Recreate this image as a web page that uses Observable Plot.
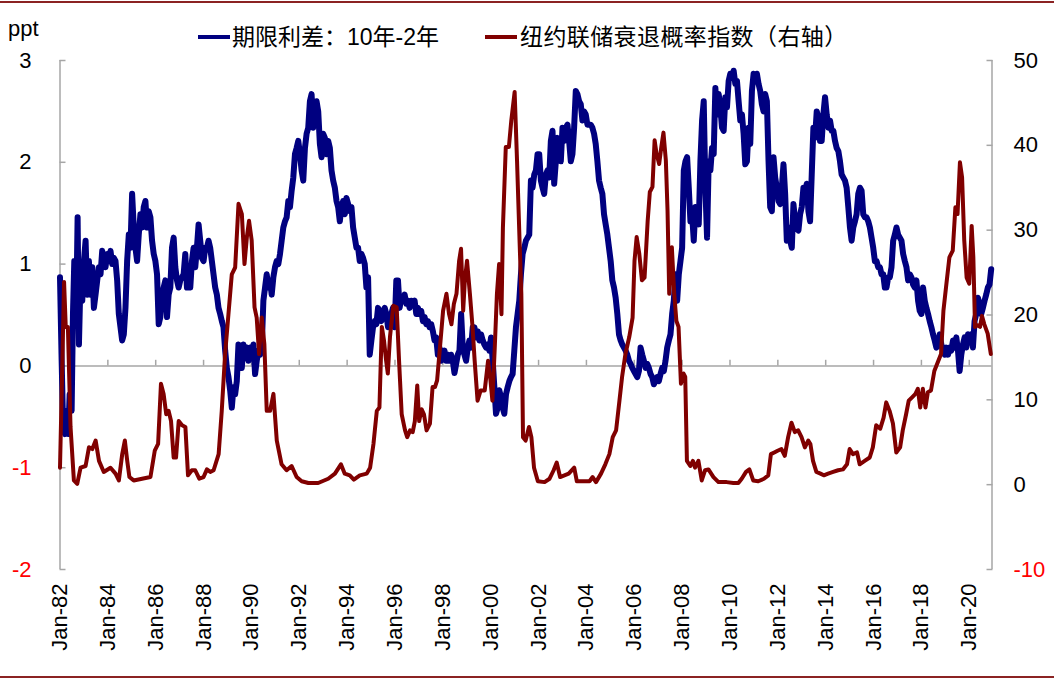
<!DOCTYPE html>
<html><head><meta charset="utf-8">
<script src="https://cdn.jsdelivr.net/npm/d3@7"></script>
<script src="https://cdn.jsdelivr.net/npm/@observablehq/plot@0.6"></script>
<style>
html,body{margin:0;padding:0;background:#fff;overflow:hidden}
#wrap{position:relative;width:1054px;height:682px;font-family:"Liberation Sans",Arial,"Noto Sans CJK SC",sans-serif;color:#000}
#chart{position:absolute;left:0;top:0}
.rule{position:absolute;left:0;width:1054px;height:2px;background:#8b2323}
.lg-line{position:absolute;width:32px;height:4px;top:35px}
.lg-text{position:absolute;top:25.5px;font-size:23px;line-height:23px;white-space:nowrap}
#ppt{position:absolute;left:8px;top:17.5px;font-size:22px;line-height:22px}
</style></head>
<body><div id="wrap">
<div id="chart"></div>
<div class="rule" style="top:1px"></div>
<div class="rule" style="top:676px"></div>
<div id="ppt">ppt</div>
<div class="lg-line" style="left:198px;background:#000080"></div>
<div class="lg-text" style="left:232px">期限利差：10年-2年</div>
<div class="lg-line" style="left:485px;background:#800000"></div>
<div class="lg-text" style="left:520px;letter-spacing:0.4px">纽约联储衰退概率指数（右轴）</div>
</div>
<script>
// ---- axes / ticks ----
const xTicks = d3.range(1982, 2021, 2);
const leftTicks = [-2, -1, 0, 1, 2, 3];
const rightTicks = [-10, 0, 10, 20, 30, 40, 50];
const xDomain = [1982, 2020.95];
const leftDomain = [-2, 3];
const rightDomain = [-10, 50];

// ---- 10y-2y term spread (ppt) ----
const spreadEarly = [[1982.000,0.87],[1982.069,0.05],[1982.125,-0.54],[1982.208,-0.67],[1982.278,-0.44],[1982.347,-0.67],[1982.403,-0.28],[1982.486,-0.44],[1982.542,0.51],[1982.597,1.03],[1982.681,0.57],[1982.736,1.46],[1982.792,0.21]];
const spreadGridStart = 1982.861;   // regular sampling grid (years)
const spreadGridStep = 5 / 72;
const spread1983_1994 = [
0.90,0.64,1.03,1.23,0.70,1.03,0.70,0.97,0.57,0.70,
0.84,0.97,0.90,1.13,1.03,0.97,1.10,1.03,1.13,1.00,
1.06,1.03,0.84,0.51,0.38,0.25,0.31,0.57,1.03,1.29,
1.16,1.69,1.36,1.16,1.03,1.29,1.49,1.36,1.56,1.62,
1.36,1.52,1.46,1.23,1.10,1.03,0.90,0.41,0.48,0.70,
0.77,0.84,0.48,0.70,0.77,1.16,1.26,0.97,0.84,0.77,
0.84,0.87,0.90,1.10,0.77,0.87,0.77,1.03,1.16,0.97,
1.16,1.39,1.23,1.06,1.03,1.16,1.16,1.23,1.16,1.03,
0.90,0.77,0.70,0.57,0.51,0.44,0.38,0.15,-0.02,-0.11,
-0.24,-0.41,-0.21,-0.28,-0.15,0.21,0.11,-0.02,0.21,0.08,
0.18,0.05,0.18,0.11,0.21,-0.08,0.05,0.15,0.11,0.18,
0.64,0.77,0.90,0.77,0.84,0.70,0.87,0.97,1.03,1.00,
1.10,1.23,1.36,1.42,1.46,1.62,1.56,1.72,1.85,2.08,
2.14,2.21,2.08,1.92,1.82,2.14,2.28,2.34,2.60,2.67,
2.34,2.54,2.60,2.50,2.18,2.05,2.28,2.24,2.08,2.21,
2.14,1.92,1.82,1.75,1.62,1.56,1.42,1.56,1.62,1.49,
1.65,1.59,1.52,1.56,1.36,1.26,1.16,1.16,1.03,1.10,
1.06,1.00,0.77];
const spread1994_2007 = [
0.87,0.11,0.25,0.38,0.44,0.41,0.57,0.51,0.44,0.54,
0.57,0.51,0.38,0.41,0.51,0.57,0.38,0.84,0.84,0.57,
0.67,0.64,0.70,0.61,0.64,0.57,0.64,0.61,0.64,0.51,
0.57,0.51,0.54,0.44,0.48,0.41,0.44,0.38,0.41,0.34,
0.25,0.28,0.11,0.18,0.05,0.08,0.15,0.05,0.11,0.05,
0.11,0.05,-0.07,0.02,0.11,0.15,0.51,0.18,0.11,0.05,
0.18,0.25,0.18,0.38,0.38,0.28,0.34,0.25,0.31,0.25,
0.21,0.18,0.21,0.15,0.28,0.05,-0.21,-0.47,-0.41,-0.24,
-0.31,-0.41,-0.47,-0.28,-0.21,-0.15,-0.11,-0.08,0.15,0.38,
0.51,0.64,0.90,1.10,1.16,1.23,1.26,1.29,1.82,1.75,
1.88,1.92,2.08,2.08,1.82,1.75,1.69,1.88,1.92,1.85,
2.21,2.31,1.79,2.01,2.24,2.21,2.01,2.34,2.21,2.34,
2.37,2.21,2.01,2.08,2.34,2.70,2.67,2.60,2.57,2.41,
2.50,2.47,2.37,2.37,2.37,2.34,2.28,2.18,2.01,1.82,
1.75,1.69,1.49,1.39,1.29,1.16,1.03,0.84,0.77,0.67,
0.51,0.31,0.25,0.21,0.18,0.15,0.11,0.05,0.02,-0.02,
-0.05,-0.08,-0.11,-0.05,0.18,0.11,0.05,-0.02,0.02,-0.02,
-0.08,-0.11,-0.18,-0.15,-0.11,-0.15,-0.08,-0.02,-0.05,0.05,
0.18,0.25,0.31,0.51,0.64,0.90];
const spread2007_2020 = [
0.64,0.90,1.03,1.16,1.92,2.01,2.05,1.75,1.42,1.49,
1.23,1.56,1.52,1.39,2.01,2.41,2.60,1.75,1.26,2.01,
1.92,2.14,2.08,2.73,2.47,2.67,2.54,2.34,2.31,2.64,
2.54,2.80,2.87,2.83,2.90,2.77,2.80,2.60,2.41,2.47,
2.28,1.98,2.01,2.34,2.18,2.70,2.87,2.80,2.87,2.77,
2.70,2.57,2.50,2.67,2.60,2.01,1.56,1.52,2.05,1.85,
1.75,1.62,1.59,1.75,1.98,1.69,1.23,1.36,1.23,1.16,
1.59,1.42,1.36,1.33,1.49,1.56,1.75,1.69,1.79,1.52,
1.42,1.88,2.34,2.24,2.50,2.44,2.21,2.21,2.47,2.64,
2.47,2.34,2.41,2.31,2.31,2.21,2.14,2.11,2.01,1.88,
1.85,1.82,1.75,1.56,1.36,1.23,1.36,1.42,1.49,1.69,
1.75,1.72,1.49,1.46,1.46,1.42,1.36,1.26,1.16,1.03,
1.03,0.97,0.97,0.90,0.90,0.77,0.77,0.87,0.87,0.97,
1.23,1.29,1.36,1.29,1.26,1.23,1.10,1.03,0.97,0.84,
0.90,0.87,0.80,0.77,0.84,0.64,0.54,0.51,0.77,0.64,
0.57,0.51,0.44,0.38,0.31,0.25,0.18,0.21,0.31,0.21,
0.15,0.11,0.18,0.11,0.18,0.15,0.25,0.18,0.28,0.15,
-0.05,0.11,0.21,0.28,0.18,0.31,0.25,0.31,0.18,0.44,
0.51,0.67,0.61,0.51,0.57,0.64,0.70,0.77,0.80,0.95];

// ---- NY Fed recession probability (%, right axis) ----
const recession1982_1994 = [[1982.00,2.0],[1982.10,14.6],[1982.17,23.9],[1982.24,18.6],[1982.33,18.6],[1982.44,6.8],[1982.58,0.5],[1982.72,0.1],[1982.86,2.0],[1983.07,2.2],[1983.21,4.4],[1983.35,4.2],[1983.49,5.2],[1983.63,2.8],[1983.83,1.5],[1984.11,2.0],[1984.32,1.3],[1984.46,0.5],[1984.60,3.6],[1984.71,5.2],[1984.81,2.8],[1984.90,0.9],[1985.08,0.5],[1985.43,0.7],[1985.78,0.9],[1985.96,4.0],[1986.10,4.8],[1986.22,11.9],[1986.33,10.7],[1986.44,8.3],[1986.54,8.7],[1986.64,7.5],[1986.75,3.2],[1986.85,3.2],[1986.96,7.5],[1987.10,7.0],[1987.24,6.8],[1987.35,1.1],[1987.51,1.7],[1987.65,1.7],[1987.82,0.7],[1988.00,0.9],[1988.14,1.8],[1988.28,1.5],[1988.42,1.7],[1988.63,3.6],[1988.76,8.7],[1988.90,15.4],[1989.04,20.1],[1989.18,24.8],[1989.32,25.6],[1989.46,33.1],[1989.60,31.9],[1989.71,26.0],[1989.81,29.2],[1989.90,31.1],[1990.01,28.8],[1990.13,20.9],[1990.22,19.7],[1990.32,15.4],[1990.43,19.7],[1990.54,16.6],[1990.64,8.7],[1990.78,8.7],[1990.92,10.7],[1991.06,5.2],[1991.26,2.4],[1991.47,1.7],[1991.68,2.2],[1991.89,0.9],[1992.10,0.4],[1992.38,0.2],[1992.79,0.2],[1993.21,0.7],[1993.49,1.3],[1993.74,2.4],[1993.90,1.3],[1994.11,1.1],[1994.28,0.6],[1994.53,1.1]];
const recession1994_2007 = [[1994.82,1.3],[1994.96,2.0],[1995.10,4.8],[1995.24,8.7],[1995.35,9.1],[1995.45,18.6],[1995.54,17.0],[1995.63,14.6],[1995.70,13.1],[1995.79,17.4],[1995.93,21.1],[1996.07,20.9],[1996.17,14.6],[1996.28,8.3],[1996.42,6.4],[1996.51,5.6],[1996.63,6.4],[1996.74,6.2],[1996.83,7.5],[1996.93,11.7],[1997.01,7.5],[1997.11,8.9],[1997.21,8.3],[1997.32,6.4],[1997.46,7.2],[1997.57,11.5],[1997.67,11.5],[1997.76,12.3],[1997.88,16.2],[1998.01,20.5],[1998.15,22.5],[1998.26,20.1],[1998.36,18.9],[1998.46,21.3],[1998.57,22.5],[1998.68,26.4],[1998.76,27.8],[1998.85,20.5],[1998.92,24.1],[1999.01,26.4],[1999.13,22.5],[1999.24,18.6],[1999.33,14.6],[1999.45,9.9],[1999.58,11.1],[1999.75,11.1],[1999.89,14.6],[1999.99,12.3],[2000.07,9.9],[2000.17,16.2],[2000.26,22.5],[2000.35,26.0],[2000.45,20.1],[2000.51,30.3],[2000.63,39.8],[2000.76,39.8],[2000.86,42.9],[2001.00,46.3],[2001.10,38.2],[2001.21,28.4],[2001.28,22.5],[2001.35,5.6],[2001.46,5.2],[2001.60,6.8],[2001.70,5.6],[2001.81,2.0],[2001.97,0.4],[2002.25,0.3],[2002.46,0.7],[2002.63,1.7],[2002.76,2.6],[2002.90,0.9],[2003.08,1.1],[2003.26,1.3],[2003.49,2.0],[2003.60,0.4],[2003.85,0.4],[2004.13,0.4],[2004.26,0.9],[2004.40,0.3],[2004.61,1.3],[2004.79,2.4],[2004.96,3.6],[2005.10,5.6],[2005.24,6.4],[2005.38,9.9],[2005.49,12.7],[2005.63,15.4],[2005.79,17.4],[2005.93,19.7],[2006.01,26.4],[2006.10,29.2],[2006.21,27.2],[2006.32,24.1],[2006.43,24.4],[2006.56,31.1],[2006.65,34.5],[2006.76,35.1],[2006.85,40.6],[2006.93,39.0],[2007.04,37.8],[2007.13,39.8],[2007.22,41.5],[2007.32,38.2],[2007.39,32.3],[2007.46,22.5],[2007.57,28.0],[2007.67,22.5],[2007.76,19.3]];
const recession2007_2020 = [[2007.85,18.6],[2007.95,11.9],[2008.06,13.1],[2008.13,12.7],[2008.20,2.8],[2008.34,2.2],[2008.45,2.8],[2008.54,2.0],[2008.68,2.8],[2008.82,0.5],[2008.96,1.7],[2009.10,1.8],[2009.31,0.9],[2009.52,0.3],[2009.86,0.3],[2010.14,0.2],[2010.35,0.2],[2010.49,0.7],[2010.67,1.5],[2010.81,1.8],[2010.97,0.5],[2011.18,0.4],[2011.42,0.7],[2011.60,1.1],[2011.71,3.6],[2011.85,3.8],[2011.99,4.0],[2012.15,4.2],[2012.29,3.4],[2012.43,5.6],[2012.57,7.3],[2012.71,6.2],[2012.85,6.4],[2012.99,5.6],[2013.13,4.4],[2013.27,5.2],[2013.36,4.8],[2013.47,2.8],[2013.61,1.5],[2013.78,1.3],[2013.92,1.1],[2014.10,1.3],[2014.31,1.5],[2014.52,1.7],[2014.72,1.8],[2014.89,2.4],[2015.00,4.2],[2015.14,3.6],[2015.31,3.8],[2015.42,2.4],[2015.63,2.8],[2015.84,3.2],[2015.97,4.4],[2016.11,7.0],[2016.28,6.6],[2016.42,7.9],[2016.53,9.7],[2016.67,8.7],[2016.81,7.2],[2016.95,3.8],[2017.11,4.4],[2017.22,6.4],[2017.36,8.3],[2017.47,9.9],[2017.61,10.3],[2017.75,10.7],[2017.85,11.3],[2017.95,9.1],[2018.06,11.3],[2018.17,9.1],[2018.27,10.9],[2018.40,11.1],[2018.54,13.4],[2018.68,14.4],[2018.82,15.4],[2018.92,20.5],[2019.03,23.3],[2019.17,26.8],[2019.31,27.6],[2019.42,32.7],[2019.51,31.9],[2019.61,38.0],[2019.70,36.2],[2019.79,28.8],[2019.89,24.4],[2020.00,23.7],[2020.10,30.5],[2020.17,26.8],[2020.24,18.6],[2020.35,18.8],[2020.45,18.6],[2020.53,19.9],[2020.63,18.9],[2020.77,17.8],[2020.90,15.4]];

// ---- build tables ----
const k = (leftDomain[1] - leftDomain[0]) / (rightDomain[1] - rightDomain[0]);
const toLeft = v => leftDomain[0] + (v - rightDomain[0]) * k;
const fromLeft = y => rightDomain[0] + (y - leftDomain[0]) / k;

const gridVals = [...spread1983_1994, ...spread1994_2007, ...spread2007_2020];
const spread = spreadEarly.map(([t, v]) => ({t, v}))
  .concat(gridVals.map((v, i) => ({t: spreadGridStart + i * spreadGridStep, v})));
const recession = [...recession1982_1994, ...recession1994_2007, ...recession2007_2020]
  .map(([t, v]) => ({t, y: toLeft(v)}));

const fmtX = y => "Jan-" + String(y % 100).padStart(2, "0");
const gray = "#a6a6a6";
const red = "#ff0000";
const FS = 22;

const chart = Plot.plot({
  width: 1054, height: 682,
  marginTop: 60, marginBottom: 113, marginLeft: 59.5, marginRight: 62.5,
  x: {domain: xDomain, label: null},
  y: {domain: leftDomain, label: null},
  style: {fontFamily: '"Liberation Sans", Arial, sans-serif', fontSize: FS + "px", background: "transparent", color: "#000", overflow: "visible"},
  marks: [
    Plot.ruleX([xDomain[0]], {stroke: gray, strokeWidth: 1.5}),
    Plot.ruleX([xDomain[1]], {stroke: gray, strokeWidth: 1.5}),
    Plot.ruleY([0], {stroke: gray, strokeWidth: 1.5}),
    Plot.ruleX(xTicks, {x: d => d, y1: 0, y2: 0.055, stroke: gray, strokeWidth: 1.5}),
    Plot.axisY(leftTicks, {anchor: "left", tickSize: -6, stroke: gray, strokeWidth: 1.5, fill: "none", label: null}),
    Plot.axisY(leftTicks.filter(d => d >= 0), {anchor: "left", tickSize: 0, tickPadding: 28.5, stroke: "none", fill: "#000", fontSize: FS, tickFormat: d => String(d), label: null}),
    Plot.axisY(leftTicks.filter(d => d < 0), {anchor: "left", tickSize: 0, tickPadding: 28.5, stroke: "none", fill: red, fontSize: FS, tickFormat: d => String(d), label: null}),
    Plot.axisY(rightTicks.map(toLeft), {anchor: "right", tickSize: -6, stroke: gray, strokeWidth: 1.5, fill: "none", label: null}),
    Plot.axisY(rightTicks.filter(v => v >= 0).map(toLeft), {anchor: "right", tickSize: 0, tickPadding: 21.5, stroke: "none", fill: "#000", fontSize: FS, tickFormat: d => String(Math.round(fromLeft(d))), label: null}),
    Plot.axisY(rightTicks.filter(v => v < 0).map(toLeft), {anchor: "right", tickSize: 0, tickPadding: 21.5, stroke: "none", fill: red, fontSize: FS, tickFormat: d => String(Math.round(fromLeft(d))), label: null}),
    Plot.axisX(xTicks, {anchor: "bottom", tickSize: 0, tickRotate: -90, tickPadding: 14, stroke: "none", fill: "#000", fontSize: FS, tickFormat: fmtX, label: null}),
    Plot.line(spread, {x: "t", y: "v", stroke: "#000080", strokeWidth: 6}),
    Plot.line(recession, {x: "t", y: "y", stroke: "#800000", strokeWidth: 4})
  ]
});
document.getElementById("chart").appendChild(chart);
</script>
</body></html>
